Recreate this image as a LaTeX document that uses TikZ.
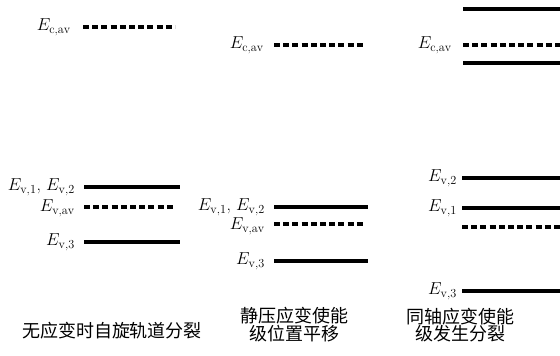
\documentclass[tikz,border=0pt]{standalone}
\usepackage{fontspec}
\newfontfamily\cjk{Noto Sans CJK SC}
\begin{document}
\begin{tikzpicture}[x=1pt,y=-1pt,
  lvl/.style={line width=3.2pt},
  avg/.style={line width=3.4pt,dash pattern=on 6pt off 3.2pt},
  lab/.style={anchor=east,inner sep=0pt,font=\fontsize{17.5}{19}\selectfont},
  captxt/.style={align=center,inner sep=0pt,font=\cjk\fontsize{18}{16}\selectfont}]
\useasboundingbox (0,0) rectangle (560,356);
% panel 1
\node[lab] (c1) at (71,27) {$E_{\mathrm{c,av}}$};
\coordinate (c1a) at (83,27); \coordinate (c1b) at (175,27);
\draw[avg] (c1a) -- (c1b);
\node[lab] (v12a) at (75,187) {$E_{\mathrm{v,1}}$, $E_{\mathrm{v,2}}$};
\coordinate (v12aa) at (84,187); \coordinate (v12ab) at (180,187);
\draw[lvl] (v12aa) -- (v12ab);
\node[lab] (vava) at (75,208) {$E_{\mathrm{v,av}}$};
\coordinate (vavaa) at (84,207); \coordinate (vavab) at (174,207);
\draw[avg] (vavaa) -- (vavab);
\node[lab] (v3a) at (75,242) {$E_{\mathrm{v,3}}$};
\coordinate (v3aa) at (84,242); \coordinate (v3ab) at (180,242);
\draw[lvl] (v3aa) -- (v3ab);
\node[captxt] (t1) at (112,331) {无应变时自旋轨道分裂};
% panel 2
\node[lab] (c2) at (264,45) {$E_{\mathrm{c,av}}$};
\coordinate (c2a) at (274,45); \coordinate (c2b) at (363,45);
\draw[avg] (c2a) -- (c2b);
\node[lab] (v12b) at (265,207) {$E_{\mathrm{v,1}}$, $E_{\mathrm{v,2}}$};
\coordinate (v12ba) at (274,207); \coordinate (v12bb) at (368,207);
\draw[lvl] (v12ba) -- (v12bb);
\node[lab] (vavb) at (265,226) {$E_{\mathrm{v,av}}$};
\coordinate (vavba) at (274,224); \coordinate (vavbb) at (363,224);
\draw[avg] (vavba) -- (vavbb);
\node[lab] (v3b) at (265,261) {$E_{\mathrm{v,3}}$};
\coordinate (v3ba) at (274,261); \coordinate (v3bb) at (368,261);
\draw[lvl] (v3ba) -- (v3bb);
\node[captxt] (t2) at (294,325) {静压应变使能\\级位置平移};
% panel 3
\coordinate (ctopa) at (463,9); \coordinate (ctopb) at (560,9);
\draw[lvl] (ctopa) -- (ctopb);
\node[lab] (c3) at (452,45) {$E_{\mathrm{c,av}}$};
\coordinate (c3a) at (463,45); \coordinate (c3b) at (560,45);
\draw[avg] (c3a) -- (c3b);
\coordinate (cbota) at (463,63); \coordinate (cbotb) at (560,63);
\draw[lvl] (cbota) -- (cbotb);
\node[lab] (v2c) at (457,178) {$E_{\mathrm{v,2}}$};
\coordinate (v2ca) at (462,178); \coordinate (v2cb) at (560,178);
\draw[lvl] (v2ca) -- (v2cb);
\node[lab] (v1c) at (457,208) {$E_{\mathrm{v,1}}$};
\coordinate (v1ca) at (462,208); \coordinate (v1cb) at (560,208);
\draw[lvl] (v1ca) -- (v1cb);
\coordinate (vavca) at (462,227); \coordinate (vavcb) at (560,227);
\draw[avg] (vavca) -- (vavcb);
\node[lab] (v3c) at (457,291) {$E_{\mathrm{v,3}}$};
\coordinate (v3ca) at (462,291); \coordinate (v3cb) at (560,291);
\draw[lvl] (v3ca) -- (v3cb);
\node[captxt] (t3) at (460,325) {同轴应变使能\\级发生分裂};
\end{tikzpicture}
\end{document}
